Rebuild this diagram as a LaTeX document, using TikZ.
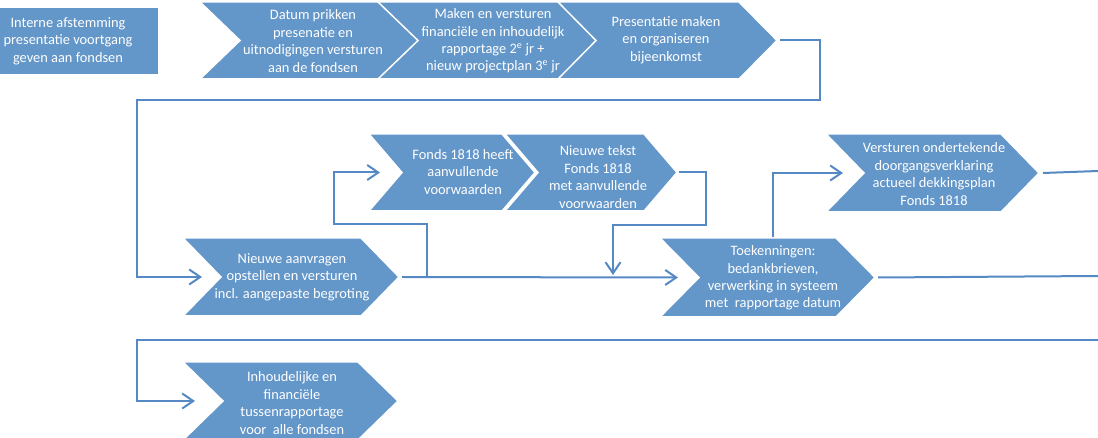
\documentclass[tikz,border=0pt]{standalone}
\usepackage{fontspec}
\setmainfont{Carlito}
\usetikzlibrary{arrows.meta}
\definecolor{boxfill}{RGB}{99,150,201}
\definecolor{linecol}{RGB}{84,137,196}
\tikzset{
  chevbox/.style={fill=boxfill, draw=white, line width=1.5pt, line join=miter},
  plainbox/.style={fill=boxfill},
  lbl/.style={text=white, align=center, font=\fontsize{14.4}{17.4}\selectfont, inner sep=0pt},
  conn/.style={draw=linecol, line width=2pt},
  arr/.style={conn, -{Straight Barb[length=11pt,width=15pt]}},
}
\newcommand{\chev}[6]{%
  \path[chevbox] (#2,#4) -- ({#3-#6},#4) -- (#3,{(#4+#5)/2}) -- ({#3-#6},#5) -- (#2,#5) -- ({#2+#6},{(#4+#5)/2}) -- cycle;
  \coordinate (#1-tip) at (#3,{(#4+#5)/2});
  \coordinate (#1-notch) at ({#2+#6},{(#4+#5)/2});
}
\begin{document}
\begin{tikzpicture}[x=1pt,y=-1pt]
\useasboundingbox (0,0) rectangle (1098,438);
% box R
\path[plainbox] (-5,8) rectangle (158,74);
\node[lbl] (tR) at (68,41) {Interne afstemming\\presentatie voortgang\\geven aan fondsen};
% top row
\chev{A}{200}{420}{2}{79}{40}
\chev{B}{378}{600}{2}{79}{40}
\chev{C}{558}{777}{2}{79}{38}
\node[lbl] (tA) at (313,41) {Datum prikken\\presenatie en\\uitnodigingen versturen\\aan de fondsen};
\node[lbl] (tB) at (493,41) {Maken en versturen\\financiële en inhoudelijk\\rapportage 2\textsuperscript{e} jr +\\nieuw projectplan 3\textsuperscript{e} jr};
\node[lbl] (tC) at (666,40) {Presentatie maken\\en organiseren\\bijeenkomst};
% middle
\chev{D}{183}{399}{238}{316}{38}
\chev{E}{369}{535}{134}{211}{33}
\chev{F}{505}{677}{134}{211}{33}
\chev{G}{660}{875}{238}{317}{39}
\chev{H}{826}{1039}{134}{212}{38}
\chev{I}{183}{398}{362}{440}{40}
\node[lbl] (tD) at (292,277) {Nieuwe aanvragen\\opstellen en versturen\\incl. aangepaste begroting};
\node[lbl] (tE) at (463,172) {Fonds 1818 heeft\\aanvullende\\voorwaarden};
\node[lbl] (tF) at (598,177) {Nieuwe tekst\\Fonds 1818\\met aanvullende\\voorwaarden};
\node[lbl] (tG) at (773,278) {Toekenningen:\\bedankbrieven,\\verwerking in systeem\\met~ rapportage datum};
\node[lbl] (tH) at (934,174) {Versturen ondertekende\\doorgangsverklaring\\actueel dekkingsplan\\Fonds 1818};
\node[lbl] (tI) at (292,403) {Inhoudelijke en\\financiële\\tussenrapportage\\voor~ alle fondsen};
% connectors
\coordinate (outH) at (1098,171);
\coordinate (outG) at (1098,276);
\coordinate (inI) at (1098,340);
\draw[arr] ([xshift=3pt]C-tip) -- (820,40.5) -- (820,100) -- (137,100) |- ([xshift=-19pt]D-notch);
\draw[arr] ([xshift=3pt]D-tip) -- ([xshift=-21pt]G-notch);
\draw[arr] (427,277) -- (427,224) -- (334,224) |- ([xshift=-22pt]E-notch);
\draw[arr] ([xshift=2pt]F-tip) -- (706,172.5) -- (706,225) -- (613,225) -- (613,275);
\draw[arr] (773,237) -- (773,173) -- ([xshift=-21pt]H-notch);
\draw[conn] ([xshift=4pt]H-tip) -- (outH);
\draw[conn] ([xshift=3pt]G-tip) -- (outG);
\draw[arr] (inI) -- (137,340) |- ([xshift=-28pt]I-notch);
\end{tikzpicture}
\end{document}
